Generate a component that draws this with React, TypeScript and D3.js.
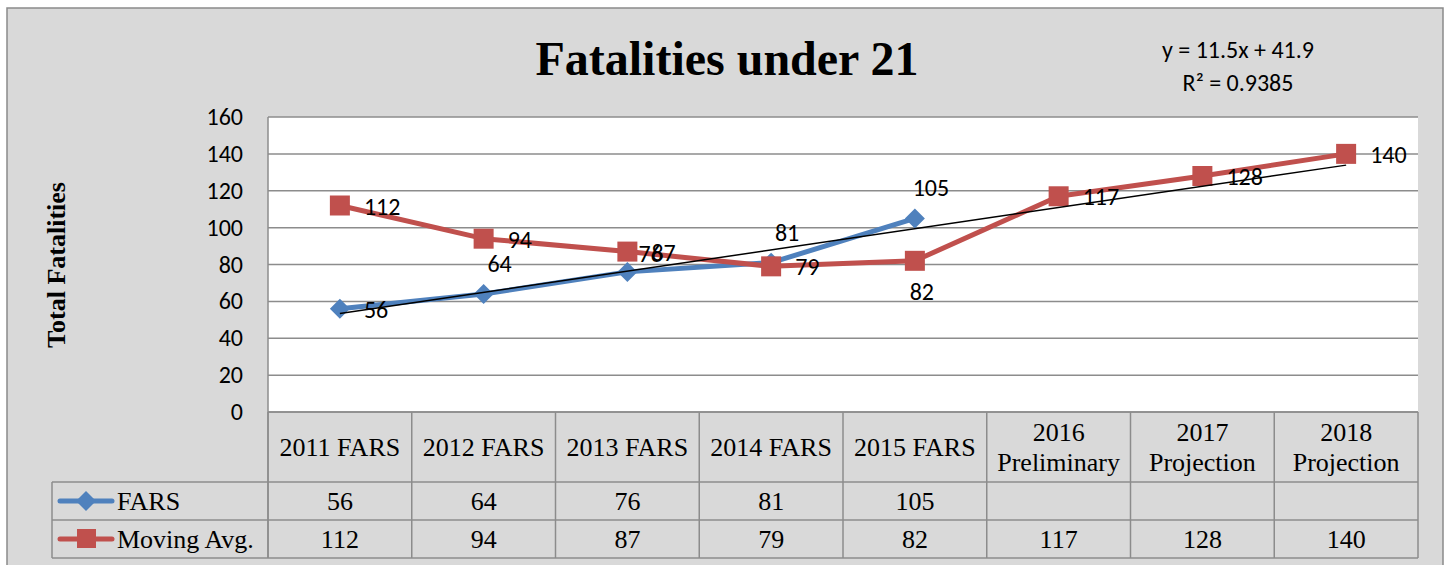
import React from "react";
import * as d3 from "d3";

const categories = ["2011 FARS", "2012 FARS", "2013 FARS", "2014 FARS", "2015 FARS", "2016 Preliminary", "2017 Projection", "2018 Projection"];
const farsValues: (number | null)[] = [56, 64, 76, 81, 105, null, null, null];
const movingAvgValues: number[] = [112, 94, 87, 79, 82, 117, 128, 140];
const yTicks = [0, 20, 40, 60, 80, 100, 120, 140, 160];

// label positions: "right", "upright", "above", "below"
const farsLabelPos = ["right", "above", "upright", "above", "above"];
const mavgLabelPos = ["right", "right", "right", "right", "below", "right", "right", "right"];

const BLUE = "#4F81BD";
const RED = "#C0504D";
const GRID = "#8c8c8c";
const BG = "#d9d9d9";
const SERIF = "'Liberation Serif', 'Times New Roman', serif";
const SANS = "Carlito, Lato, 'Open Sans', sans-serif";

export default function App() {
  const plotL = 268, plotR = 1418, plotT = 117, plotB = 412;
  const headerB = 482, row1B = 520, row2B = 558;
  const legendL = 52;

  const x = d3.scaleBand<string>().domain(categories).range([plotL, plotR]);
  const cx = (i: number) => (x(categories[i]) as number) + x.bandwidth() / 2;
  const y = d3.scaleLinear().domain([0, 160]).range([plotB, plotT]);

  // Linear trend on FARS
  const pts = farsValues.map((v, i) => [i + 1, v] as [number, number | null]).filter((p) => p[1] != null) as [number, number][];
  const mx = d3.mean(pts, (p) => p[0])!;
  const my = d3.mean(pts, (p) => p[1])!;
  const sxy = d3.sum(pts, (p) => (p[0] - mx) * (p[1] - my));
  const sxx = d3.sum(pts, (p) => (p[0] - mx) ** 2);
  const slope = sxy / sxx;
  const intercept = my - slope * mx;
  const sst = d3.sum(pts, (p) => (p[1] - my) ** 2);
  const r2 = (slope * slope * sxx) / sst;

  const line = d3.line<[number, number]>().x((d) => d[0]).y((d) => d[1]);
  const farsPts: [number, number][] = farsValues
    .map((v, i) => (v == null ? null : ([cx(i), y(v)] as [number, number])))
    .filter((p) => p != null) as [number, number][];
  const mavgPts: [number, number][] = movingAvgValues.map((v, i) => [cx(i), y(v)]);

  const diamond = (px: number, py: number, r: number) =>
    `M${px},${py - r}L${px + r},${py}L${px},${py + r}L${px - r},${py}Z`;

  const labelXY = (px: number, py: number, pos: string): [number, number, string] => {
    if (pos === "right") return [px + 24, py + 9, "start"];
    if (pos === "upright") return [px + 11, py - 10, "start"];
    if (pos === "above") return [px + 16, py - 22, "middle"];
    return [px + 7, py + 39, "middle"];
  };

  const colEdges = categories.map((c) => x(c) as number).concat([plotR]);
  const TF = 26;

  return (
    <svg width={1450} height={565} style={{ position: "absolute", left: 0, top: 0, display: "block" }}>
      <rect x={0} y={0} width={1450} height={565} fill="#ffffff" />
      <rect x={7} y={8} width={1436} height={570} fill={BG} stroke="#8a8a8a" strokeWidth={1.5} />
      {/* plot area */}
      <rect x={plotL} y={plotT} width={plotR - plotL} height={plotB - plotT} fill="#ffffff" />
      {yTicks.map((t) => (
        <line key={t} x1={plotL} x2={plotR} y1={y(t)} y2={y(t)} stroke={GRID} strokeWidth={1.5} />
      ))}
      {yTicks.map((t) => (
        <text key={"l" + t} x={243} y={y(t) + 8} textAnchor="end" fontFamily={SANS} fontSize={24} fill="#000">
          {t}
        </text>
      ))}
      <line x1={plotL} x2={plotL} y1={plotT} y2={row2B} stroke={GRID} strokeWidth={1.5} />

      {/* title */}
      <text x={727} y={75} textAnchor="middle" fontFamily={SERIF} fontWeight="bold" fontSize={48} fill="#000">
        Fatalities under 21
      </text>
      <text
        transform={`translate(65,265) rotate(-90)`}
        textAnchor="middle"
        fontFamily={SERIF}
        fontWeight="bold"
        fontSize={26}
        fill="#000"
      >
        Total Fatalities
      </text>

      {/* trend equation */}
      <text x={1238} y={58} textAnchor="middle" fontFamily={SANS} fontSize={24} fill="#000">
        {`y = ${slope.toFixed(1)}x + ${intercept.toFixed(1)}`}
      </text>
      <text x={1238} y={91} textAnchor="middle" fontFamily={SANS} fontSize={24} fill="#000">
        {`R² = ${r2.toFixed(4)}`}
      </text>

      {/* table */}
      {colEdges.map((e, i) => (
        <line key={"v" + i} x1={e} x2={e} y1={plotB} y2={row2B} stroke={GRID} strokeWidth={1.5} />
      ))}
      <line x1={legendL} x2={legendL} y1={headerB} y2={row2B} stroke={GRID} strokeWidth={1.5} />
      <line x1={plotL} x2={plotR} y1={plotB} y2={plotB} stroke={GRID} strokeWidth={1.5} />
      {[headerB, row1B, row2B].map((yy) => (
        <line key={"h" + yy} x1={legendL} x2={plotR} y1={yy} y2={yy} stroke={GRID} strokeWidth={1.5} />
      ))}
      {categories.map((c, i) => {
        const parts = c.split(" ");
        const isFars = parts[1] === "FARS";
        return isFars ? (
          <text key={c} x={cx(i)} y={456} textAnchor="middle" fontFamily={SERIF} fontSize={TF} fill="#000">
            {c}
          </text>
        ) : (
          <text key={c} x={cx(i)} textAnchor="middle" fontFamily={SERIF} fontSize={TF} fill="#000">
            <tspan x={cx(i)} y={441}>{parts[0]}</tspan>
            <tspan x={cx(i)} y={471}>{parts[1]}</tspan>
          </text>
        );
      })}
      {farsValues.map((v, i) =>
        v == null ? null : (
          <text key={"fv" + i} x={cx(i)} y={510} textAnchor="middle" fontFamily={SERIF} fontSize={TF} fill="#000">
            {v}
          </text>
        )
      )}
      {movingAvgValues.map((v, i) => (
        <text key={"mv" + i} x={cx(i)} y={548} textAnchor="middle" fontFamily={SERIF} fontSize={TF} fill="#000">
          {v}
        </text>
      ))}
      {/* legend keys */}
      <line x1={60} x2={112} y1={501} y2={501} stroke={BLUE} strokeWidth={5} strokeLinecap="round" />
      <path d={diamond(86, 501, 10)} fill={BLUE} />
      <text x={117} y={510} fontFamily={SERIF} fontSize={TF} fill="#000">FARS</text>
      <line x1={60} x2={112} y1={539} y2={539} stroke={RED} strokeWidth={5} strokeLinecap="round" />
      <rect x={77} y={529} width={19} height={19} fill={RED} />
      <text x={117} y={548} fontFamily={SERIF} fontSize={TF} fill="#000">Moving Avg.</text>

      {/* series */}
      <path d={line(farsPts) || ""} fill="none" stroke={BLUE} strokeWidth={5} strokeLinejoin="round" />
      {farsPts.map((p, i) => (
        <path key={"fd" + i} d={diamond(p[0], p[1], 10)} fill={BLUE} />
      ))}
      <path d={line(mavgPts) || ""} fill="none" stroke={RED} strokeWidth={5} strokeLinejoin="round" />
      {mavgPts.map((p, i) => (
        <rect key={"ms" + i} x={p[0] - 10} y={p[1] - 10} width={20} height={20} fill={RED} />
      ))}
      {/* trendline */}
      <line
        x1={cx(0)}
        y1={y(slope * 1 + intercept)}
        x2={cx(categories.length - 1)}
        y2={y(slope * categories.length + intercept)}
        stroke="#000"
        strokeWidth={1.5}
      />

      {/* data labels */}
      {farsPts.map((p, i) => {
        const [lx, ly, anchor] = labelXY(p[0], p[1], farsLabelPos[i]);
        return (
          <text key={"fl" + i} x={lx} y={ly} textAnchor={anchor} fontFamily={SANS} fontSize={24} fill="#000">
            {farsValues[i]}
          </text>
        );
      })}
      {mavgPts.map((p, i) => {
        const [lx, ly, anchor] = labelXY(p[0], p[1], mavgLabelPos[i]);
        return (
          <text key={"ml" + i} x={lx} y={ly} textAnchor={anchor} fontFamily={SANS} fontSize={24} fill="#000">
            {movingAvgValues[i]}
          </text>
        );
      })}
    </svg>
  );
}
